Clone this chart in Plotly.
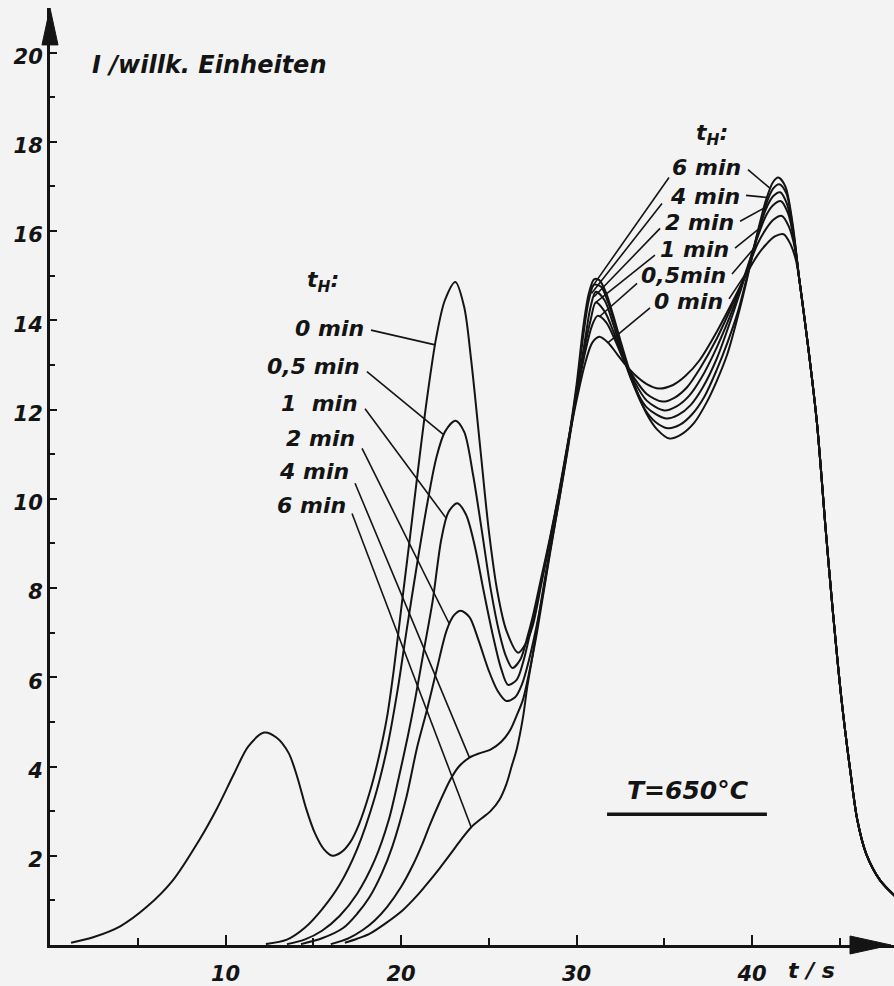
import plotly.graph_objects as go

# Intensity-time curves for different holding times t_H at T = 650 °C
HOLD_TIMES = ["0 min", "0,5 min", "1 min", "2 min", "4 min", "6 min"]

T_0MIN = [1.2, 2.5, 4, 5.5, 7, 8.5, 9.5, 10.5, 11.3, 12.2, 12.9, 13.6, 14.1, 14.6, 15.1, 15.6, 16.1,
          16.6, 17.1, 17.6, 18.2, 18.7, 19.2, 19.6, 20, 20.5, 21, 21.5, 22, 22.5, 23.1, 23.6, 24,
          24.5, 25, 25.5, 26, 26.67, 27.1, 27.5, 28, 28.5, 29, 29.5, 30, 30.5, 30.9, 31.3, 31.8,
          32.3, 32.8, 33.4, 34, 34.7, 35.5, 36.2, 37, 38, 39, 39.7, 40.3, 40.8, 41.3, 41.8, 42.2,
          42.5, 42.7]
I_0MIN = [0.05, 0.18, 0.42, 0.85, 1.45, 2.35, 3.05, 3.85, 4.45, 4.76, 4.65, 4.3, 3.75, 3.05, 2.5,
          2.15, 2.0, 2.08, 2.3, 2.7, 3.4, 4.15, 5.1, 6.2, 7.5, 9.1, 10.75, 12.3, 13.6, 14.45, 14.86,
          14.3, 13.1, 11.2, 9.3, 7.9, 7.05, 6.55, 6.75, 7.15, 8.1, 9.1, 10.1, 11.2, 12.2, 13.05,
          13.5, 13.63, 13.5, 13.25, 13.0, 12.75, 12.57, 12.47, 12.55, 12.75, 13.1, 13.75, 14.5,
          15.05, 15.45, 15.7, 15.88, 15.93, 15.7, 15.35, 14.9]

T_05MIN = [12.3, 13.5, 14.5, 15.5, 16.5, 17.5, 18.5, 19.2, 19.8, 20.3, 20.9, 21.5, 22, 22.5, 23.1,
           23.6, 24.1, 24.6, 25.1, 25.6, 26.0, 26.35, 26.8, 27.2, 27.5, 28, 28.5, 29, 29.5, 30, 30.5,
           30.9, 31.2, 31.7, 32.2, 32.7, 33.3, 34, 34.9, 35.6, 36.3, 37, 38, 39, 39.7, 40.3, 40.8,
           41.2, 41.7, 42.1, 42.45, 42.7]
I_05MIN = [0.02, 0.12, 0.38, 0.8, 1.35, 2.15, 3.3, 4.4, 5.7, 7.0, 8.5, 9.9, 10.9, 11.5, 11.75, 11.5,
           10.55, 9.3, 8.0, 7.0, 6.45, 6.21, 6.4, 6.9, 7.35, 8.25, 9.15, 10.15, 11.25, 12.3, 13.3,
           13.9, 14.1, 13.95, 13.55, 13.1, 12.7, 12.35, 12.18, 12.27, 12.5, 12.9, 13.6, 14.45, 15.1,
           15.7, 16.05, 16.25, 16.34, 16.1, 15.6, 14.9]

T_1MIN = [13.5, 14.5, 15.5, 16.5, 17.5, 18.5, 19.3, 19.9, 20.4, 20.8, 21.3, 21.8, 22.3, 22.7, 23.2,
          23.7, 24.2, 24.7, 25.2, 25.7, 26.1, 26.6, 27.0, 27.5, 28, 28.5, 29, 29.5, 30, 30.5, 30.8,
          31.1, 31.6, 32.1, 32.6, 33.2, 34, 35, 35.7, 36.4, 37.1, 38, 39, 39.7, 40.3, 40.8, 41.2,
          41.65, 42.05, 42.4, 42.7]
I_1MIN = [0.02, 0.12, 0.32, 0.65, 1.15, 1.9, 2.8, 3.8, 4.7, 5.5, 6.6, 7.7, 9.1, 9.7, 9.9, 9.65, 8.95,
          7.95, 7.0, 6.2, 5.83, 5.95, 6.4, 7.25, 8.15, 9.1, 10.1, 11.2, 12.35, 13.45, 14.0, 14.4,
          14.2, 13.75, 13.2, 12.7, 12.2, 11.98, 12.07, 12.3, 12.7, 13.4, 14.35, 15.15, 15.85, 16.35,
          16.58, 16.67, 16.4, 15.8, 14.9]

T_2MIN = [14.3, 15.5, 16.7, 17.5, 18.2, 18.9, 19.5, 20.3, 20.9, 21.5, 22.05, 22.6, 23.0, 23.4, 23.9,
          24.4, 25.0, 25.5, 26.0, 26.5, 26.9, 27.3, 27.7, 28.1, 28.5, 29, 29.5, 30, 30.5, 30.8, 31.1,
          31.6, 32.1, 32.6, 33.2, 34, 35.1, 35.8, 36.5, 37.2, 38, 39, 39.7, 40.3, 40.8, 41.2, 41.6,
          42, 42.35, 42.7]
I_2MIN = [0.02, 0.15, 0.38, 0.7, 1.07, 1.6, 2.2, 3.3, 4.4, 5.3, 6.2, 7.05, 7.38, 7.49, 7.35, 6.85,
          6.15, 5.7, 5.47, 5.55, 5.85, 6.4, 7.1, 7.9, 8.85, 9.95, 11.1, 12.35, 13.6, 14.3, 14.64,
          14.45, 13.9, 13.25, 12.6, 12.05, 11.8, 11.88, 12.1, 12.5, 13.15, 14.25, 15.1, 15.9, 16.5,
          16.78, 16.87, 16.6, 15.9, 14.9]

T_4MIN = [16, 17, 17.8, 18.5, 19.2, 20, 20.7, 21.2, 21.65, 22.2, 22.8, 23.3, 23.9, 24.5, 25.1, 25.7,
          26.2, 26.6, 26.95, 27.3, 27.7, 28.1, 28.5, 29, 29.5, 30, 30.4, 30.7, 31.0, 31.4, 31.8,
          32.2, 32.7, 33.3, 33.9, 34.5, 35.2, 35.9, 36.6, 37.3, 38, 38.6, 39.2, 39.7, 40.3, 40.8,
          41.2, 41.55, 41.95, 42.35, 42.7]
I_4MIN = [0.02, 0.15, 0.33, 0.55, 0.85, 1.3, 1.81, 2.25, 2.7, 3.2, 3.7, 4.0, 4.2, 4.3, 4.38, 4.55,
          4.8, 5.15, 5.5, 6.1, 6.9, 7.85, 8.8, 9.95, 11.15, 12.45, 13.7, 14.45, 14.8, 14.75, 14.4,
          13.9, 13.2, 12.5, 12.0, 11.72, 11.58, 11.66, 11.9, 12.3, 12.9, 13.5, 14.2, 14.95, 15.9,
          16.6, 16.95, 17.05, 16.85, 16.0, 14.9]

T_6MIN = [16.8, 17.5, 18.2, 19.1, 20.1, 20.9, 21.65, 22.2, 22.8, 23.4, 24.0, 24.6, 25.1, 25.6, 26.0,
          26.3, 26.6, 26.95, 27.2, 27.5, 27.9, 28.3, 28.7, 29.1, 29.5, 30, 30.4, 30.7, 31.0, 31.3,
          31.7, 32.1, 32.5, 33, 33.5, 34, 34.6, 35.3, 36, 36.7, 37.4, 38, 38.6, 39.2, 39.7, 40.3,
          40.8, 41.2, 41.5, 41.9, 42.3, 42.7]
I_6MIN = [0.05, 0.14, 0.25, 0.48, 0.78, 1.1, 1.45, 1.72, 2.03, 2.35, 2.64, 2.84, 3.0, 3.25, 3.6, 4.0,
          4.4, 5.1, 5.8, 6.5, 7.5, 8.45, 9.35, 10.25, 11.2, 12.55, 13.9, 14.6, 14.92, 14.9, 14.6,
          14.1, 13.55, 12.9, 12.35, 11.9, 11.55, 11.35, 11.45, 11.7, 12.15, 12.65, 13.25, 14.1, 14.9,
          15.95, 16.7, 17.1, 17.2, 17.0, 16.2, 14.9]

# common falling edge shared by all curves
T_TAIL = [43.2, 43.7, 44.2, 44.6, 45.1, 45.6, 46.0, 46.5, 47.3, 48.2]
I_TAIL = [13.4, 11.7, 9.3, 7.5, 5.5, 3.9, 2.8, 2.05, 1.45, 1.08]

X_TICKS = [10, 20, 30, 40]
X_MINOR = [5, 15, 25, 35, 45]
Y_TICKS = [2, 4, 6, 8, 10, 12, 14, 16, 18, 20]
Y_MINOR = [1, 3, 5, 7, 9, 11, 13, 15, 17, 19]

INK = "#141414"
PAPER = "#f3f3f3"
FONT = "DejaVu Sans"


def lettering(size):
    return dict(family=FONT, size=size, color=INK, style="italic", weight="bold")


series = [(T_0MIN, I_0MIN), (T_05MIN, I_05MIN), (T_1MIN, I_1MIN),
          (T_2MIN, I_2MIN), (T_4MIN, I_4MIN), (T_6MIN, I_6MIN)]

fig = go.Figure()
for name, (t, i) in zip(HOLD_TIMES, series):
    fig.add_trace(go.Scatter(
        x=t + T_TAIL, y=i + I_TAIL, name=name, mode="lines",
        line=dict(color=INK, width=2, shape="spline", smoothing=0.85),
        hoverinfo="skip", showlegend=False))

# label placement: text with its right edge, then leader line(s) from -> to
left_labels = [
    ("0 min", 18.01, 13.81, (18.29, 13.78), (21.95, 13.45)),
    ("0,5 min", 17.78, 12.96, (18.06, 12.85), (22.39, 11.45)),
    ("1\u00a0 min", 17.66, 12.13, (17.95, 12.02), (22.6, 9.55)),
    ("2 min", 17.49, 11.35, (17.78, 11.13), (22.75, 7.2)),
    ("4 min", 17.15, 10.61, (17.38, 10.35), (23.9, 4.2)),
    ("6 min", 16.98, 9.85, (17.21, 9.67), (24.0, 2.64)),
]
right_labels = [
    ("6 min", 39.49, 17.43, (39.77, 17.38), (41.05, 16.95), (35.27, 17.2), (30.8, 14.7)),
    ("4 min", 39.43, 16.78, (39.66, 16.8), (40.95, 16.75), (34.87, 16.62), (30.85, 14.6)),
    ("2 min", 39.09, 16.2, (39.32, 16.22), (40.85, 16.55), (34.76, 16.06), (31.0, 14.53)),
    ("1 min", 38.80, 15.59, (39.03, 15.62), (40.55, 16.1), (34.47, 15.46), (31.1, 14.4)),
    ("0,5min", 38.63, 15.01, (38.86, 15.04), (40.3, 15.7), (33.45, 14.83), (31.3, 14.08)),
    ("0 min", 38.46, 14.43, (38.69, 14.48), (39.9, 15.2), (34.19, 14.28), (31.8, 13.5)),
]

shapes = []
annotations = []


def leader(a, b):
    shapes.append(dict(type="line", xref="x", yref="y", x0=a[0], y0=a[1], x1=b[0], y1=b[1],
                       line=dict(color=INK, width=1.6)))


for text, x, y, a, b in left_labels:
    annotations.append(dict(x=x, y=y, xref="x", yref="y", text=text, showarrow=False,
                            xanchor="right", yanchor="middle", font=lettering(22)))
    leader(a, b)

for text, x, y, a, b, c, d in right_labels:
    annotations.append(dict(x=x, y=y, xref="x", yref="y", text=text, showarrow=False,
                            xanchor="right", yanchor="middle", font=lettering(22)))
    leader(a, b)
    leader(c, d)

annotations += [
    dict(x=15.56, y=14.86, xref="x", yref="y", text="t<sub>H</sub>:", showarrow=False,
         font=lettering(22)),
    dict(x=37.72, y=18.16, xref="x", yref="y", text="t<sub>H</sub>:", showarrow=False,
         font=lettering(22)),
    dict(x=2.28, y=19.73, xref="x", yref="y", text="I /willk. Einheiten", showarrow=False,
         xanchor="left", yanchor="middle", font=lettering(24)),
    dict(x=36.35, y=3.46, xref="x", yref="y", text="T=650°C", showarrow=False,
         font=lettering(25)),
    dict(x=43.4, y=-0.027, xref="x", yref="paper", text="t / s", showarrow=False,
         yanchor="middle", font=lettering(22)),
]

# underline of the temperature label
shapes.append(dict(type="line", xref="x", yref="y", x0=31.74, y0=2.93, x1=40.85, y1=2.93,
                   line=dict(color=INK, width=3.5)))
# arrowheads on both axes
shapes.append(dict(type="path", xref="paper", yref="paper", fillcolor=INK,
                   line=dict(color=INK, width=1),
                   path="M -0.0095 0.9606 L 0 1.0 L 0.0095 0.9606 Z"))
shapes.append(dict(type="path", xref="paper", yref="paper", fillcolor=INK,
                   line=dict(color=INK, width=1),
                   path="M 0.9479 0.0096 L 0.9964 0 L 0.9479 -0.0096 Z"))

fig.update_layout(
    width=894, height=986,
    margin=dict(l=50, r=0, t=8, b=38),
    paper_bgcolor=PAPER, plot_bgcolor=PAPER,
    shapes=shapes, annotations=annotations,
    xaxis=dict(range=[0, 48.09], showline=True, linecolor=INK, linewidth=3,
               showgrid=False, zeroline=False, ticks="inside", tickvals=X_TICKS,
               ticktext=[str(v) for v in X_TICKS], ticklen=10, tickwidth=2, tickcolor=INK,
               minor=dict(tickvals=X_MINOR, ticks="inside", ticklen=7, tickwidth=2,
                          tickcolor=INK, showgrid=False),
               tickfont=lettering(21), ticklabelstandoff=8),
    yaxis=dict(range=[0, 21.0], showline=True, linecolor=INK, linewidth=3,
               showgrid=False, zeroline=False, ticks="inside", tickvals=Y_TICKS,
               ticktext=[str(v) for v in Y_TICKS], ticklen=7, tickwidth=2, tickcolor=INK,
               minor=dict(tickvals=Y_MINOR, ticks="inside", ticklen=5, tickwidth=2,
                          tickcolor=INK, showgrid=False),
               tickfont=lettering(21), ticklabelstandoff=0, ticklabelshift=4),
)

fig.write_html("out.html")
